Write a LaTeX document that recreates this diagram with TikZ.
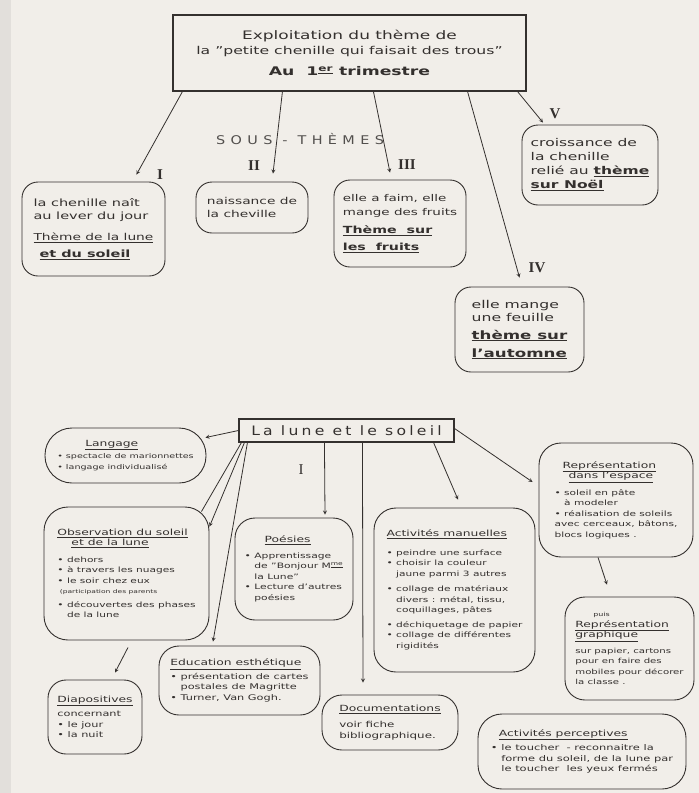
\documentclass[tikz,border=0pt]{standalone}
\usepackage{fontspec}
\setmainfont{DejaVu Sans}[FakeStretch=1.45]
\newfontfamily\chiffres{Liberation Serif}
\newfontfamily\espacee{DejaVu Sans}[LetterSpace=25,FakeStretch=1.2]
\newfontfamily\mince{DejaVu Sans}[LetterSpace=45,FakeStretch=1.2]
\definecolor{papier}{RGB}{241,238,233}
\definecolor{bord}{RGB}{226,223,219}
\definecolor{encre}{RGB}{52,48,46}
\newcommand{\puce}{\textbullet\ }
\newcommand{\retrait}{\hphantom{\textbullet\ }}
\newcommand{\titre}[1]{{\fontsize{8.5}{11}\selectfont\underline{#1}}}
\newcommand{\gras}[1]{{\bfseries\underline{#1}}}
\tikzset{
  cadre/.style={draw=encre,line width=1.1pt,inner sep=0pt,align=center,text=encre},
  bulle/.style={draw=encre,line width=0.9pt,rounded corners=16pt,inner sep=0pt,align=left,text=encre},
  chiffre/.style={font=\chiffres\bfseries\fontsize{15}{15}\selectfont,text=encre},
  corps/.style={font=\fontsize{#1}{10.5}\selectfont},
  fleche/.style={-stealth,encre,line width=0.8pt},
}

\begin{document}
\begin{tikzpicture}[x=1pt,y=-1pt]
  \fill[papier] (0,0) rectangle (699,793);
  \fill[bord] (0,0) rectangle (11,793);
  \useasboundingbox (0,0) rectangle (699,793);

  \node[cadre,minimum width=353pt,minimum height=76pt,font=\fontsize{10.8}{15}\selectfont] (theme) at (349.5,53)
    {{\fontsize{11.7}{15}\selectfont Exploitation du thème de}\\ la "petite chenille qui faisait des trous"\\[6pt]
     {\bfseries\fontsize{11.9}{15}\selectfont Au\ \ 1\textsuperscript{\underline{er}} trimestre}};
  \node[text=encre!85,font=\mince\fontsize{12}{12}\selectfont] (sous) at (300,139) {SOUS\ -\ THÈMES};

  \node[bulle,minimum width=143pt,minimum height=94pt,font=\fontsize{10}{13}\selectfont] (chenille) at (93.5,229)
    {la chenille naît\\ au lever du jour\\[8pt] {\fontsize{9.5}{13}\selectfont\underline{Thème de la lune}}\\[4pt]
     \hspace*{6pt}{\bfseries\underline{et du soleil}}};
  \node[bulle,minimum width=112pt,minimum height=51pt,font=\fontsize{9.5}{13}\selectfont] (naissance) at (252,207.5)
    {naissance de\\ la cheville};
  \node[bulle,minimum width=132pt,minimum height=87pt,font=\fontsize{9.3}{14}\selectfont] (fruits) at (400,223.5)
    {elle a faim, elle\\ mange des fruits\\[4pt]
     {\fontsize{9.8}{15}\selectfont\gras{Thème\ \ sur}}\\[3pt]
     {\fontsize{9.8}{15}\selectfont\gras{les\ \ fruits}}};
  \node[bulle,minimum width=136pt,minimum height=80pt,font=\fontsize{10.7}{14}\selectfont] (noel) at (590,165)
    {croissance de\\ la chenille\\ relié au \gras{thème}\\ \gras{sur Noël}};
  \node[bulle,minimum width=129pt,minimum height=85pt,font=\fontsize{10.8}{13}\selectfont] (automne) at (519.5,329.5)
    {elle mange\\ une feuille\\[5pt] {\fontsize{11.5}{13}\selectfont\gras{thème sur}}\\[5pt]
     {\fontsize{11.5}{13}\selectfont\gras{l'automne}}};

  \node[chiffre] (n1) at (160,175) {I};
  \node[chiffre] (n2) at (254,166) {II};
  \node[chiffre] (n3) at (407,165) {III};
  \node[chiffre] (n4) at (537,268) {IV};
  \node[chiffre] (n5) at (555,114) {V};

  \path[fleche]
    ([xshift=10pt]theme.south west) edge ([xshift=-29pt,yshift=7pt]chenille.north east)
    ([xshift=110pt]theme.south west) edge ([xshift=21pt,yshift=8pt]naissance.north)
    ([xshift=201pt]theme.south west) edge ([xshift=-10pt,yshift=7pt]fruits.north)
    ([xshift=-59pt]theme.south east) edge ([yshift=9pt]automne.north)
    ([xshift=-9pt]theme.south east) edge ([xshift=-47pt,yshift=2pt]noel.north);

  \node[cadre,minimum width=215pt,minimum height=23pt,font=\espacee\fontsize{13}{13}\selectfont] (lune) at (346.5,430.5)
    {La lune et le soleil};
  \node[chiffre,font=\chiffres\fontsize{15}{15}\selectfont] (n6) at (301,470) {I};

  \node[bulle,rounded corners=27pt,minimum width=161pt,minimum height=55pt,corps=6.6] (langage) at (125.5,455.5)
    {\hspace*{28pt}\titre{Langage}\\[2pt] \puce spectacle de marionnettes\\ \puce langage individualisé};
  \node[bulle,rounded corners=24pt,minimum width=165pt,minimum height=133pt,corps=7.3] (observation) at (126.5,573.5)
    {\titre{Observation du soleil}\\ \hspace*{14pt}\titre{et de la lune}\\[6pt]
     \puce dehors\\ \puce à travers les nuages\\ \puce le soir chez eux\\
     {\fontsize{5.2}{7}\selectfont\ (participation des parents}\\[3pt]
     \puce découvertes des phases\\ \retrait de la lune};
  \node[bulle,rounded corners=20pt,minimum width=118pt,minimum height=102pt,corps=7.4] (poesies) at (294,569)
    {\hspace*{20pt}\titre{Poésies}\\[5pt] \puce Apprentissage\\ \retrait de "Bonjour M\textsuperscript{\underline{me}}\\
     \retrait la Lune"\\ \puce Lecture d'autres\\ \retrait poésies};
  \node[bulle,rounded corners=22pt,minimum width=161pt,minimum height=164pt,corps=7.3] (manuelles) at (454.5,590)
    {\titre{Activités manuelles}\\[8pt] \puce peindre une surface\\ \puce choisir la couleur\\
     \retrait jaune parmi 3 autres\\[5pt] \puce collage de matériaux\\ \retrait divers : métal, tissu,\\
     \retrait coquillages, pâtes\\[4pt] \puce déchiquetage de papier\\ \puce collage de différentes\\
     \retrait rigidités};
  \node[bulle,rounded corners=22pt,minimum width=154pt,minimum height=114pt,corps=7.3] (espace) at (616,500)
    {\hspace*{8pt}\titre{Représentation}\\ \hspace*{14pt}\titre{dans l'espace}\\[6pt]
     \puce soleil en pâte\\ \retrait à modeler\\ \puce réalisation de soleils\\
     avec cerceaux, bâtons,\\ blocs logiques .};
  \node[bulle,rounded corners=20pt,minimum width=129pt,minimum height=103pt,corps=7] (graphique) at (629.5,648.5)
    {\hspace*{18pt}{\fontsize{5.5}{7}\selectfont puis}\\ \titre{Représentation}\\ \titre{graphique}\\[5pt]
     sur papier, cartons\\ pour en faire des\\ mobiles pour décorer\\ la classe .};
  \node[bulle,rounded corners=18pt,minimum width=94pt,minimum height=74pt,corps=7.8] (diapos) at (95,717)
    {\titre{Diapositives}\\[4pt] concernant\\ \puce le jour\\ \puce la nuit};
  \node[bulle,rounded corners=20pt,minimum width=161pt,minimum height=69pt,corps=7.8] (education) at (239.5,680.5)
    {\titre{Education esthétique}\\[3pt] \puce présentation de cartes\\ \retrait postales de Magritte\\
     \puce Turner, Van Gogh.};
  \node[bulle,rounded corners=20pt,minimum width=136pt,minimum height=55pt,corps=8.2] (documentations) at (390,722.5)
    {\titre{Documentations}\\[6pt] voir fiche\\ bibliographique.};
  \node[bulle,rounded corners=24pt,minimum width=208pt,minimum height=75pt,corps=7.9] (perceptives) at (582,751.5)
    {\hspace*{8pt}\titre{Activités perceptives}\\[4pt] \puce le toucher \ - reconnaitre la\\
     \retrait forme du soleil, de la lune par\\ \retrait le toucher \ les yeux fermés};

  \draw[encre,line width=0.8pt] ([xshift=3pt]lune.south west) -- ([xshift=-8pt,yshift=-5pt]observation.north east);
  \path[fleche]
    (lune.west) edge ([xshift=-1pt,yshift=-10pt]langage.north east)
    ([xshift=6pt]lune.south west) edge ([yshift=-20pt]observation.north east)
    ([xshift=9pt]lune.south west) edge ([xshift=-26.5pt,yshift=4pt]education.north)
    ([xshift=86pt]lune.south west) edge ([xshift=31pt,yshift=3pt]poesies.north)
    ([xshift=124pt]lune.south west) edge ([xshift=-27pt,yshift=12pt]documentations.north)
    ([xshift=-21pt]lune.south east) edge ([xshift=3.5pt,yshift=8pt]manuelles.north)
    ([yshift=2pt]lune.east) edge ([xshift=-6pt,yshift=18pt]espace.west)
    ([xshift=-18pt]espace.south) edge ([xshift=-22.5pt,yshift=12pt]graphique.north)
    ([xshift=1.5pt,yshift=-7pt]observation.south) edge ([xshift=20pt,yshift=7pt]diapos.north);
\end{tikzpicture}
\end{document}
